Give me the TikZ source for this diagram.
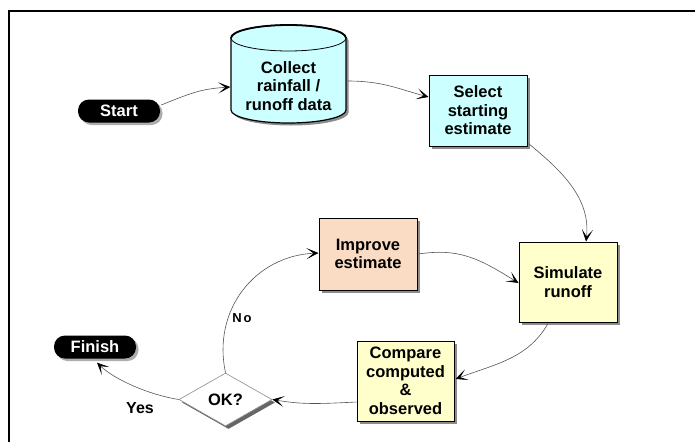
\documentclass[tikz,border=0pt]{standalone}
\usepackage{fontspec}
\setmainfont{Liberation Sans}
\usetikzlibrary{shapes.geometric,shadows,arrows.meta,calc}
\definecolor{cyanfill}{HTML}{CCFFFF}
\definecolor{yelfill}{HTML}{FFFFCC}
\definecolor{peachfill}{HTML}{FADCC4}
\definecolor{linkgray}{HTML}{555555}
\tikzset{
  txt/.style={font=\bfseries\fontsize{16.5}{18.5}\selectfont, align=center, inner sep=0pt},
  procbox/.style={txt, draw=black, line width=1pt, minimum width=#1, 
     drop shadow={shadow xshift=3pt, shadow yshift=-3pt, fill=black!45, opacity=1}},
  pill/.style={txt, fill=black, text=white, rounded corners=11pt, minimum width=82pt, minimum height=23pt,
     drop shadow={shadow xshift=2.5pt, shadow yshift=-2.5pt, fill=black!40, opacity=0.8}},
  decide/.style={txt, diamond, draw=black!45, line width=0.6pt, fill=white, minimum width=93pt, minimum height=53pt,
     drop shadow={shadow xshift=3pt, shadow yshift=-3pt, fill=black!60, opacity=1}},
  link/.style={draw=linkgray, line width=0.6pt, -{Stealth[length=12pt,width=11pt,inset=7pt,color=black]}},
  lbl/.style={font=\bfseries\fontsize{16}{18}\selectfont, inner sep=0pt},
}
\begin{document}
\begin{tikzpicture}[x=1pt,y=-1pt]
\useasboundingbox (0,0) rectangle (695,442);
% frame
\draw[line width=2.2pt] (9,442) -- (9,11) -- (695,11);

% cylinder (drawn directly)
\begin{scope}[shift={(2.5,2.5)}]
\fill[black!45] (231,38) -- (231,110) .. controls (231,117.18) and (256.74,123) .. (288.5,123)
  .. controls (320.26,123) and (346,117.18) .. (346,110) -- (346,38)
  .. controls (346,30.82) and (320.26,25) .. (288.5,25) .. controls (256.74,25) and (231,30.82) .. (231,38) -- cycle;
\end{scope}
\filldraw[fill=cyanfill, draw=black, line width=1.2pt] (231,38) -- (231,110) .. controls (231,117.18) and (256.74,123) .. (288.5,123)
  .. controls (320.26,123) and (346,117.18) .. (346,110) -- (346,38)
  .. controls (346,30.82) and (320.26,25) .. (288.5,25) .. controls (256.74,25) and (231,30.82) .. (231,38) -- cycle;
\draw[black, line width=0.8pt] (231,38) .. controls (231,45.18) and (256.74,51) .. (288.5,51)
  .. controls (320.26,51) and (346,45.18) .. (346,38);
\draw[black, line width=1.8pt] (231,38) .. controls (231,30.82) and (256.74,25) .. (288.5,25)
  .. controls (320.26,25) and (346,30.82) .. (346,38);
\node[inner sep=0pt, minimum width=116pt, minimum height=98pt] (cyl) at (288.5,74) {};
\node[txt] (cyltxt) at (288.5,86) {Collect\\rainfall /\\runoff data};

% nodes
\node[pill] (start) at (119,111) {Start};
\node[pill] (finish) at (95,347) {Finish};
\node[procbox=98pt, minimum height=71pt, fill=cyanfill] (sel) at (478,110.5) {Select\\starting\\estimate};
\node[procbox=98pt, minimum height=80pt, fill=yelfill] (sim) at (568,282) {Simulate\\runoff};
\node[procbox=98pt, minimum height=72pt, fill=peachfill] (imp) at (368,254) {Improve\\estimate};
\node[procbox=97pt, minimum height=80pt, fill=yelfill] (cmp) at (405.5,381) {Compare\\computed\\\&\\observed};
\node[decide] (ok) at (225.5,399.5) {OK?};

% connectors
\draw[link] ($(start.east)+(1,-6)$) .. controls +(30,-12) and +(-30,2) .. ($(cyl.west)+(0,13)$);
\draw[link] ($(cyl.east)+(1,7)$) .. controls +(35,0) and +(-30,-8) .. ($(sel.west)+(0,-13.5)$);
\draw[link] ($(sel.south east)+(1,-3)$) .. controls +(30,25) and +(5,-45) .. ($(sim.north)+(18,0)$);
\draw[link] ($(imp.east)+(1,0)$) .. controls +(40,-6) and +(-40,-25) .. ($(sim.west)+(0,1)$);
\draw[link] ($(sim.south)+(-20,1)$) .. controls +(-20,35) and +(40,-15) .. ($(cmp.east)+(1,-2)$);
\draw[link] ($(cmp.west)+(0,21)$) .. controls +(-40,2) and +(30,5) .. (ok.east);
\draw[link] (ok.north) .. controls (212,310) and (255,256) .. ($(imp.west)+(0,-1)$);
\draw[link] (ok.west) .. controls (150,395) and (115,380) .. ($(finish.south)+(2,4)$);

% labels
\node[lbl, font=\bfseries\fontsize{13}{15}\selectfont] (nolbl) at (242,318) {N\kern2pt o};
\node[lbl] (yeslbl) at (140,408) {Yes};
\end{tikzpicture}
\end{document}
